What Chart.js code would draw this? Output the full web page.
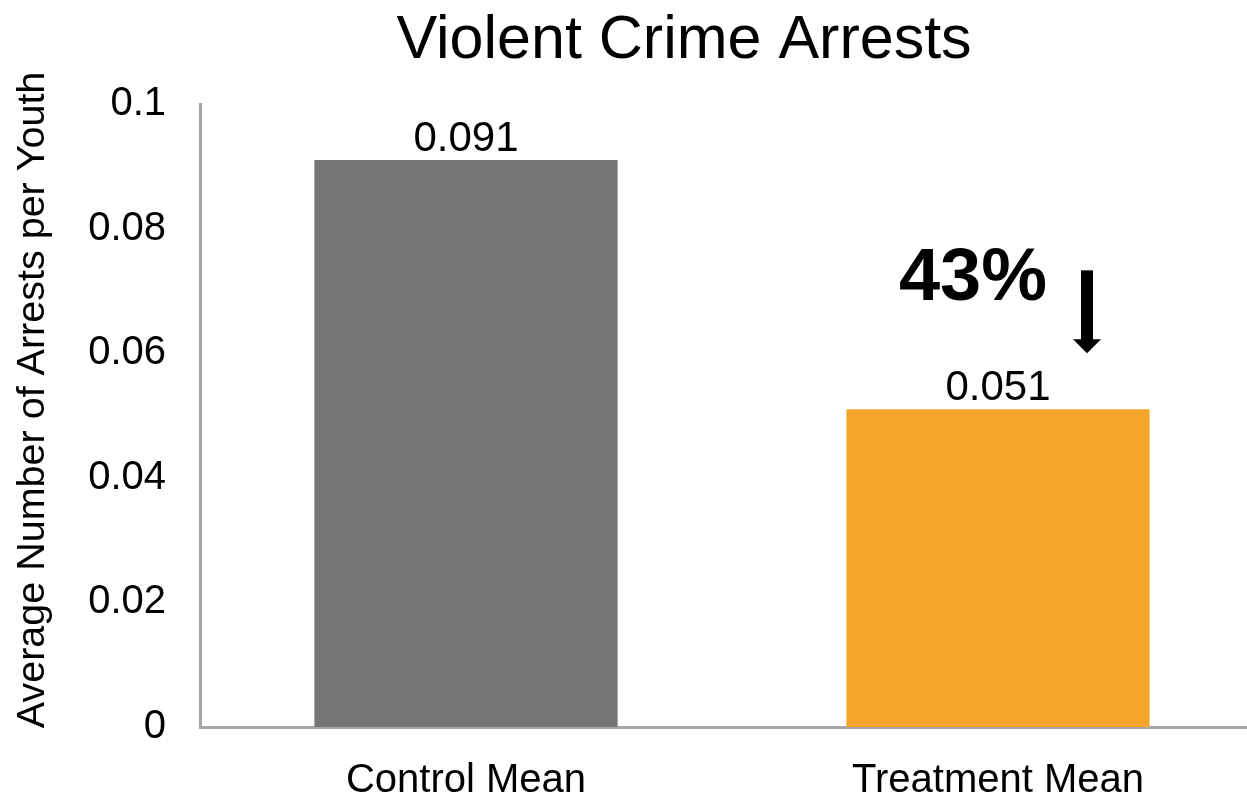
<!DOCTYPE html>
<html>
<head>
<meta charset="utf-8">
<script src="https://cdn.jsdelivr.net/npm/chart.js@4"></script>
<style>
  html, body { margin: 0; padding: 0; background: #fff; overflow: hidden; }
  #wrap { width: 1264px; height: 796px; }
</style>
</head>
<body>
<div id="wrap"><canvas id="c" width="1264" height="796"></canvas></div>
<script>
const categories = ["Control Mean", "Treatment Mean"];
const values = [0.091, 0.051];
const valueLabels = ["0.091", "0.051"];
const barColors = ["#767676", "#F5A52A"];
const yTicks = [0, 0.02, 0.04, 0.06, 0.08, 0.1];
const yTickLabels = ["0", "0.02", "0.04", "0.06", "0.08", "0.1"];
const chartTitle = "Violent Crime Arrests";
const yAxisTitle = "Average Number of Arrests per Youth";
const changeLabel = "43%";

const FONT = "'Liberation Sans', Arial, sans-serif";

const labelPlugin = {
  id: 'labels',
  afterDraw(chart) {
    const ctx = chart.ctx;
    const meta = chart.getDatasetMeta(0);
    const y = chart.scales.y;
    ctx.save();
    ctx.fillStyle = '#000';
    // chart title
    ctx.font = '61px ' + FONT;
    ctx.textAlign = 'center';
    ctx.textBaseline = 'alphabetic';
    ctx.fillText(chartTitle, 684, 58);
    // y axis title (rotated)
    ctx.save();
    ctx.translate(44, y.getPixelForValue(0.0525));
    ctx.rotate(-Math.PI / 2);
    ctx.font = '39.5px ' + FONT;
    ctx.textBaseline = 'alphabetic';
    ctx.fillText(yAxisTitle, 0, 0);
    ctx.restore();
    // value labels
    ctx.font = '42px ' + FONT;
    ctx.textBaseline = 'bottom';
    meta.data.forEach((bar, i) => {
      ctx.fillText(valueLabels[i], bar.x, bar.y);
    });
    // annotation: 43% and down arrow next to treatment bar
    const b = meta.data[1];
    ctx.font = 'bold 74px ' + FONT;
    ctx.textBaseline = 'alphabetic';
    ctx.fillText(changeLabel, b.x - 25, y.getPixelForValue(0.0685));
    const ax = b.x + 89;
    const yTop = y.getPixelForValue(0.0733);
    const yTip = y.getPixelForValue(0.0600);
    const headLen = 14;
    ctx.fillRect(ax - 6, yTop, 12, (yTip - headLen) - yTop + 1);
    ctx.beginPath();
    ctx.moveTo(ax - 14, yTip - headLen);
    ctx.lineTo(ax + 14, yTip - headLen);
    ctx.lineTo(ax, yTip);
    ctx.closePath();
    ctx.fill();
    ctx.restore();
  }
};

new Chart(document.getElementById('c'), {
  type: 'bar',
  data: {
    labels: categories,
    datasets: [{
      data: values,
      backgroundColor: barColors,
      categoryPercentage: 0.57,
      barPercentage: 1.0
    }]
  },
  options: {
    responsive: false,
    animation: false,
    devicePixelRatio: 1,
    layout: { padding: { left: 0, right: 0, top: 104, bottom: 0 } },
    plugins: {
      legend: { display: false },
      tooltip: { enabled: false },
      title: { display: false }
    },
    scales: {
      x: {
        grid: { display: false, drawTicks: false },
        border: { display: true, color: '#a6a6a6', width: 3 },
        ticks: {
          color: '#000',
          font: { family: FONT, size: 40 },
          padding: 30
        },
        afterFit(scale) { scale.height = 69; }
      },
      y: {
        min: 0,
        max: 0.1,
        grid: { display: false, drawTicks: false },
        border: { display: true, color: '#a6a6a6', width: 3 },
        afterBuildTicks(scale) { scale.ticks = yTicks.map(v => ({ value: v })); },
        ticks: {
          color: '#000',
          font: { family: FONT, size: 40 },
          padding: 34,
          callback(value) {
            const i = yTicks.findIndex(t => Math.abs(t - value) < 1e-9);
            return i >= 0 ? yTickLabels[i] : '';
          }
        },
        title: { display: false },
        afterFit(scale) { scale.width = 200; }
      }
    }
  },
  plugins: [labelPlugin]
});
</script>
</body>
</html>
